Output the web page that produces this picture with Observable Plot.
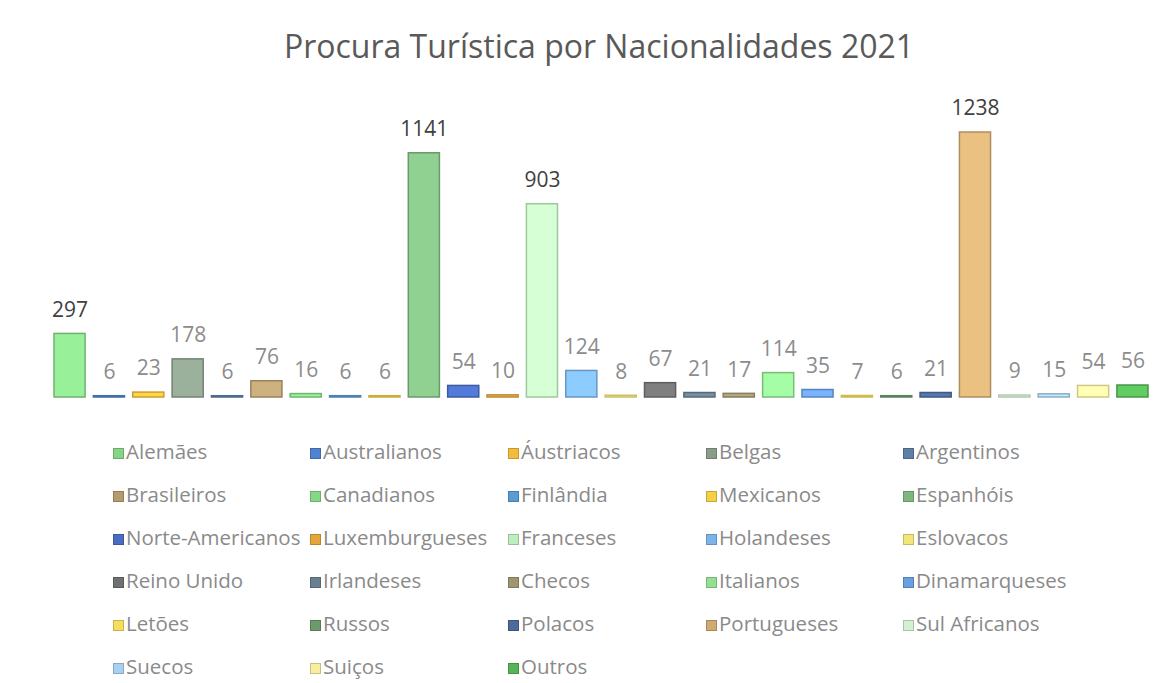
<!DOCTYPE html>
<html>
<head>
<meta charset="utf-8">
<script src="https://cdn.jsdelivr.net/npm/d3@7"></script>
<script src="https://cdn.jsdelivr.net/npm/@observablehq/plot@0.6"></script>
<style>
  html, body { margin: 0; padding: 0; background: #fff; }
  body { width: 1156px; height: 683px; position: relative; overflow: hidden; font-family: "Open Sans", sans-serif; }
  #title { position: absolute; left: 0; width: 1198px; top: 24px; text-align: center; font-size: 32px; color: #595959; }
  #chart { position: absolute; left: 0; top: 90px; }
  #legend { position: absolute; left: 0; top: 0; width: 1156px; height: 683px; pointer-events: none; }
  .item { position: absolute; font-size: 20.5px; color: #8a8a8a; white-space: nowrap; line-height: 24px; }
  .sw { display: inline-block; width: 11px; height: 11px; margin-right: 2px; vertical-align: 0px; box-sizing: border-box; }
</style>
</head>
<body>
<div id="title">Procura Turística por Nacionalidades 2021</div>
<div id="chart"></div>
<div id="legend"></div>
<script>
const categories = ["Alemães","Australianos","Áustriacos","Belgas","Argentinos","Brasileiros","Canadianos","Finlândia","Mexicanos","Espanhóis","Norte-Americanos","Luxemburgueses","Franceses","Holandeses","Eslovacos","Reino Unido","Irlandeses","Checos","Italianos","Dinamarqueses","Letões","Russos","Polacos","Portugueses","Sul Africanos","Suecos","Suiços","Outros"];
const values = [297,6,23,178,6,76,16,6,6,1141,54,10,903,124,8,67,21,17,114,35,7,6,21,1238,9,15,54,56];
const colors = ["#86d486","#4f82d0","#f2bd3c","#8a9c8a","#5e7fa6","#b59c70","#86d886","#5b9bd5","#f5cf45","#7fb87f","#4a6cc0","#e4a63a","#bdeebd","#7cb4ea","#f2e678","#707070","#687f90","#9e9670","#92e092","#6a9fe0","#f5de5c","#6c9a6c","#4c6a9a","#cfaa72","#d2f0d2","#a9d0f0","#f7eea0","#56b456"];

const data = categories.map((c, i) => ({name: c, value: values[i], color: colors[i]}));

const chart = Plot.plot({
  width: 1156,
  height: 320,
  marginLeft: 54,
  marginRight: 8,
  marginTop: 42,
  marginBottom: 13,
  x: {domain: categories, paddingInner: 0.21, paddingOuter: 0, round: false, axis: null},
  y: {domain: [0, 1238], axis: null},
  style: {fontFamily: "Open Sans, sans-serif", background: "transparent"},
  marks: [
    Plot.barY(data, {
      x: "name", y: "value",
      fill: d => d3.color(d.color).brighter(0.35).formatHex(),
      stroke: d => d3.color(d.color).darker(0.5).formatHex(),
      strokeWidth: 1.5
    }),
    Plot.text(data, {
      x: "name", y: "value", text: d => String(d.value),
      dy: -24, fontSize: 21,
      fill: d => d.value > 200 ? "#404040" : "#8c8c8c"
    })
  ]
});
document.getElementById("chart").appendChild(chart);

const legend = document.getElementById("legend");
const colX = [113, 310, 508, 706, 903];
const rowY = [451, 494, 537, 580, 623, 666];
categories.forEach((c, i) => {
  const col = i % 5, row = Math.floor(i / 5);
  const it = document.createElement("div");
  it.className = "item";
  it.style.left = colX[col] + "px";
  it.style.top = (rowY[row] - 12) + "px";
  const sw = document.createElement("span");
  sw.className = "sw";
  sw.style.background = colors[i];
  sw.style.border = "1px solid " + d3.color(colors[i]).darker(0.6).formatHex();
  it.appendChild(sw);
  it.appendChild(document.createTextNode(c));
  legend.appendChild(it);
});
</script>
</body>
</html>
